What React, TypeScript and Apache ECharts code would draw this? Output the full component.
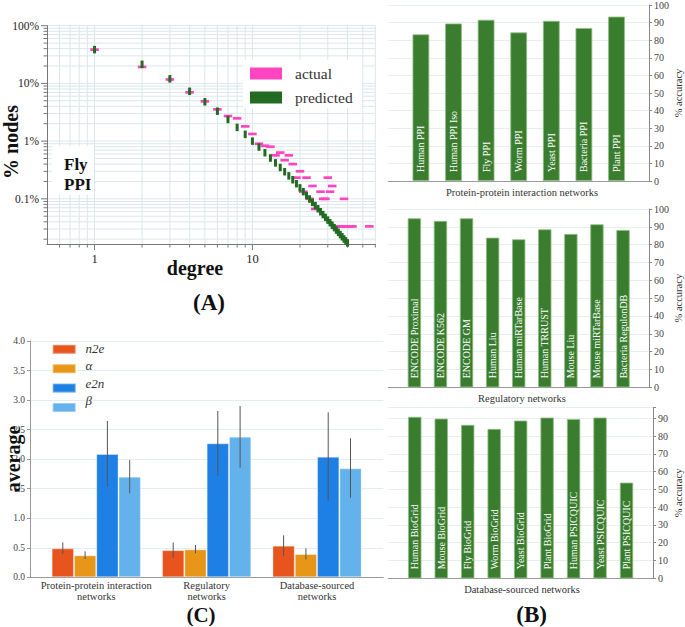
import React, { useEffect, useRef } from "react";
import * as echarts from "echarts";

const FONT = "'Liberation Serif', 'DejaVu Serif', serif";

// ---------- Panel A: degree distribution (Fly PPI) ----------
const actualDegree = [1, 2, 3, 4, 5, 6, 7, 8, 9, 10, 11, 12, 13, 14, 15, 16, 17, 18, 19, 20, 21, 22, 23, 24, 25, 27, 28, 29, 30, 31, 32, 35, 36, 37, 38, 39, 40, 42, 43, 55];
const actualPct = [38.5, 19.3, 11.7, 7.0, 4.9, 3.55, 2.72, 2.48, 1.8, 1.33, 0.9, 0.83, 0.8, 0.567, 0.633, 0.467, 0.567, 0.4, 0.233, 0.3, 0.133, 0.233, 0.1, 0.167, 0.0667, 0.133, 0.1, 0.1, 0.233, 0.133, 0.167, 0.0333, 0.0333, 0.0333, 0.1, 0.0333, 0.0333, 0.0333, 0.0333, 0.0333];
const predictedDegree = [1, 2, 3, 4, 5, 6, 7, 8, 9, 10, 11, 12, 13, 14, 15, 16, 17, 18, 19, 20, 21, 22, 23, 24, 25, 26, 27, 28, 29, 30, 31, 32, 33, 34, 35, 36, 37, 38, 39, 40, 41];
const predictedPct = [38.5, 21.4, 12.0, 7.3, 4.8, 3.3, 2.37, 1.73, 1.31, 1.0, 0.79, 0.63, 0.51, 0.42, 0.35, 0.295, 0.25, 0.214, 0.183, 0.155, 0.133, 0.114, 0.0994, 0.0868, 0.0763, 0.0674, 0.0598, 0.0533, 0.0477, 0.0428, 0.0386, 0.0349, 0.0317, 0.0288, 0.0263, 0.024, 0.022, 0.0202, 0.0187, 0.0172, 0.0159];
const degreeMajorTicks = [1, 10];
const degreeMinorTicks = [0.6, 0.7, 0.8, 0.9, 2, 3, 4, 5, 6, 7, 8, 9, 20, 30, 40, 50, 60];
const nodesMajorTicks = [0.1, 1, 10, 100];
const nodesMinorTicks = [0.02, 0.03, 0.04, 0.05, 0.06, 0.07, 0.08, 0.09, 0.2, 0.3, 0.4, 0.5, 0.6, 0.7, 0.8, 0.9, 2, 3, 4, 5, 6, 7, 8, 9, 20, 30, 40, 50, 60, 70, 80, 90];
const A_XMIN = 0.5;
const A_XMAX = 60;
const A_YMIN = 0.0165;
const A_YMAX = 100;
const seriesNamesA = ["actual", "predicted"];

// ---------- Panel B: accuracy ----------
const ppiNames = ["Human PPI", "Human PPI Iso", "Fly PPI", "Worm PPI", "Yeast PPI", "Bacteria PPI", "Plant PPI"];
const ppiAccuracy = [83.3, 89.5, 91.6, 84.4, 91.0, 86.9, 93.4];
const regNames = ["ENCODE Proximal", "ENCODE K562", "ENCODE GM", "Human Liu", "Human miRTarBase", "Human TRRUST", "Mouse Liu", "Mouse miRTarBase", "Bacteria RegulonDB"];
const regAccuracy = [94.8, 93.3, 94.8, 83.9, 83.0, 88.6, 86.0, 91.4, 88.2];
const dbNames = ["Human BioGrid", "Mouse BioGrid", "Fly BioGrid", "Worm BioGrid", "Yeast BioGrid", "Plant BioGrid", "Human PSICQUIC", "Yeast PSICQUIC", "Plant PSICQUIC"];
const dbAccuracy = [90.8, 89.8, 86.3, 84.0, 88.7, 90.4, 89.5, 90.4, 53.8];
const accuracyTicks = [0, 10, 20, 30, 40, 50, 60, 70, 80, 90, 100];

// ---------- Panel C: averages ----------
const groupNames = ["Protein-protein interaction\nnetworks", "Regulatory\nnetworks", "Database-sourced\nnetworks"];
const measureNames = ["n2e", "α", "e2n", "β"];
const n2eMean = [0.49, 0.46, 0.535];
const n2eLow = [0.39, 0.33, 0.36];
const n2eHigh = [0.59, 0.59, 0.71];
const alphaMean = [0.372, 0.474, 0.394];
const alphaLow = [0.31, 0.406, 0.305];
const alphaHigh = [0.44, 0.547, 0.49];
const e2nMean = [2.087, 2.268, 2.042];
const e2nLow = [1.534, 1.72, 1.297];
const e2nHigh = [2.646, 2.815, 2.793];
const betaMean = [1.703, 2.38, 1.845];
const betaLow = [1.422, 1.855, 1.347];
const betaHigh = [1.985, 2.9, 2.353];

const PINK = "#ff44c2";
const DKGREEN = "#236b23";
const BARGREEN = "#3a7d2f";
const GRIDA = "#dbe7e9";
const measureColors = ["#e8541e", "#e8961a", "#1e80e4", "#64b2ec"];
const C_BAR_W = 22.3;

const isPow10 = (v: number) => {
  const l = Math.log10(v);
  return Math.abs(l - Math.round(l)) < 1e-6;
};

function buildOption() {
  const gA = { left: 47, top: 25.7, width: 328.3, height: 218.3 };
  const gB1 = { left: 388.3, top: 3.3, width: 267.4, height: 177.7 };
  const gB2 = { left: 388.3, top: 209, width: 267.4, height: 178.3 };
  const gB3 = { left: 388.3, top: 407.6, width: 267.4, height: 170.7 };
  const gC = { left: 30, top: 341, width: 353.3, height: 236.3 };

  const bXAxis = (gridIndex: number, n: number) => ({
    type: "value",
    gridIndex,
    min: 0,
    max: n + 1,
    axisLine: { show: true, onZero: false, lineStyle: { color: "#999", width: 1 } },
    axisTick: { show: false },
    axisLabel: { show: false },
    splitLine: { show: false },
  });
  const bYAxis = (gridIndex: number, max: number) => ({
    type: "value",
    gridIndex,
    position: "right",
    min: 0,
    max,
    interval: 10,
    axisLine: { show: true, onZero: false, lineStyle: { color: "#888" } },
    axisTick: { show: true, length: 3, lineStyle: { color: "#888" } },
    axisLabel: {
      fontSize: 10,
      color: "#444",
      margin: 5,
      fontFamily: FONT,
      formatter: (v: number) => (accuracyTicks.includes(v) ? String(v) : ""),
    },
    splitLine: { show: true, lineStyle: { color: "#e8eeef", width: 1 } },
    name: "% accuracy",
    nameLocation: "middle",
    nameGap: 20,
    nameRotate: 90,
    nameTextStyle: { fontSize: 10.5, color: "#333", fontFamily: FONT },
  });
  const bSeries = (idx: number, names: string[], values: number[], width: number) => ({
    type: "bar",
    xAxisIndex: idx,
    yAxisIndex: idx,
    barWidth: width,
    data: values.map((v, i) => [i + 1, v]),
    itemStyle: { color: BARGREEN, borderColor: "#8fbf84", borderWidth: 0.8 },
    label: {
      show: true,
      position: "insideBottom",
      distance: 9,
      rotate: 90,
      align: "left",
      verticalAlign: "middle",
      color: "#fff",
      fontSize: 10,
      fontFamily: FONT,
      formatter: (p: any) => names[p.dataIndex],
    },
    silent: true,
  });

  const cMeans = [n2eMean, alphaMean, e2nMean, betaMean];
  const cLows = [n2eLow, alphaLow, e2nLow, betaLow];
  const cHighs = [n2eHigh, alphaHigh, e2nHigh, betaHigh];
  const errData: number[][] = [];
  cMeans.forEach((_, m) => {
    groupNames.forEach((_, g) => errData.push([g + 1, cLows[m][g], cHighs[m][g], m]));
  });

  const text = (t: string, x: number, y: number, size: number, weight: string, extra: any = {}, rotation = 0) => ({
    type: "text",
    x,
    y,
    rotation,
    silent: true,
    z: 100,
    style: {
      text: t,
      fontSize: size,
      fontWeight: weight,
      fontFamily: FONT,
      fill: "#111",
      align: "center",
      verticalAlign: "middle",
      ...extra,
    },
  });

  // legend label layout (swatches drawn by the legend component, labels in serif)
  const legendAY0 = 73.5;
  const legendAStep = 24;
  const legendCY0 = 348.3;
  const legendCStep = 17.4;

  return {
    animation: false,
    backgroundColor: "#fff",
    textStyle: { fontFamily: FONT },
    grid: [gA, gB1, gB2, gB3, gC],
    xAxis: [
      {
        type: "log",
        logBase: 10,
        gridIndex: 0,
        min: A_XMIN,
        max: A_XMAX,
        axisLine: { show: true, onZero: false, lineStyle: { color: "#777" } },
        axisTick: { show: false },
        splitLine: { show: false },
        axisLabel: {
          fontSize: 12.5,
          color: "#222",
          margin: 8,
          fontFamily: FONT,
          formatter: (v: number) => (isPow10(v) && degreeMajorTicks.some((t) => Math.abs(t - v) < 1e-6) ? String(Math.round(v)) : ""),
        },
      },
      bXAxis(1, ppiNames.length),
      bXAxis(2, regNames.length),
      bXAxis(3, dbNames.length),
      {
        type: "value",
        gridIndex: 4,
        min: 0.4,
        max: 3.6,
        axisLine: { show: true, onZero: false, lineStyle: { color: "#999" } },
        axisTick: { show: false },
        splitLine: { show: false },
        axisLabel: {
          customValues: [1, 2, 3],
          formatter: (v: number) => groupNames[Math.round(v) - 1] || "",
          fontSize: 10.5,
          lineHeight: 11,
          color: "#333",
          margin: 3,
          fontFamily: FONT,
        },
      },
    ],
    yAxis: [
      {
        type: "log",
        logBase: 10,
        gridIndex: 0,
        min: A_YMIN,
        max: A_YMAX,
        axisLine: { show: true, onZero: false, lineStyle: { color: "#777" } },
        axisTick: { show: false },
        splitLine: { show: false },
        axisLabel: {
          fontSize: 11.5,
          color: "#222",
          margin: 8,
          fontFamily: FONT,
          formatter: (v: number) =>
            isPow10(v) && nodesMajorTicks.some((t) => Math.abs(t - v) / t < 1e-6) ? `${Number(v.toPrecision(1))}%` : "",
        },
      },
      bYAxis(1, 100),
      bYAxis(2, 100),
      bYAxis(3, 96),
      {
        type: "value",
        gridIndex: 4,
        min: 0,
        max: 4,
        interval: 0.5,
        axisLine: { show: true, onZero: false, lineStyle: { color: "#999" } },
        axisTick: { show: true, length: 3, lineStyle: { color: "#999" } },
        axisLabel: {
          fontSize: 9.5,
          color: "#444",
          margin: 5,
          fontFamily: FONT,
          formatter: (v: number) => v.toFixed(1),
        },
        splitLine: { show: true, lineStyle: { color: "#e4eef2" } },
      },
    ],
    legend: [
      {
        data: seriesNamesA.map((n) => ({ name: n, icon: "rect" })),
        formatter: () => "",
        orient: "vertical",
        left: 250,
        top: 67.5,
        padding: 0,
        itemWidth: 32,
        itemHeight: 12,
        itemGap: 12,
        selectedMode: false,
        textStyle: { fontSize: 12 },
      },
      {
        data: measureNames.map((n) => ({ name: n, icon: "rect" })),
        formatter: () => "",
        orient: "vertical",
        left: 51.7,
        top: 343.8,
        padding: 0,
        itemWidth: 23,
        itemHeight: 9,
        itemGap: 8.4,
        selectedMode: false,
        textStyle: { fontSize: 9 },
      },
    ],
    series: [
      {
        type: "custom",
        name: "gridX",
        xAxisIndex: 0,
        yAxisIndex: 0,
        silent: true,
        z: 0,
        data: [...degreeMinorTicks, ...degreeMajorTicks].map((v) => [v, A_YMIN]),
        renderItem: (_p: any, api: any) => {
          const v = api.value(0);
          const major = degreeMajorTicks.includes(v);
          const b = api.coord([v, A_YMIN]);
          const t = api.coord([v, A_YMAX]);
          return {
            type: "group",
            children: [
              { type: "line", shape: { x1: b[0], y1: b[1], x2: t[0], y2: t[1] }, style: { stroke: GRIDA, lineWidth: 1 } },
              { type: "line", shape: { x1: b[0], y1: b[1], x2: b[0], y2: b[1] + (major ? 6 : 3.5) }, style: { stroke: "#777", lineWidth: 1 } },
            ],
          };
        },
      },
      {
        type: "custom",
        name: "gridY",
        xAxisIndex: 0,
        yAxisIndex: 0,
        silent: true,
        z: 0,
        data: [...nodesMinorTicks, ...nodesMajorTicks].map((v) => [A_XMIN, v]),
        renderItem: (_p: any, api: any) => {
          const v = api.value(1);
          const major = nodesMajorTicks.some((t) => Math.abs(t - v) / t < 1e-6);
          const l = api.coord([A_XMIN, v]);
          const r = api.coord([A_XMAX, v]);
          return {
            type: "group",
            children: [
              { type: "line", shape: { x1: l[0], y1: l[1], x2: r[0], y2: r[1] }, style: { stroke: GRIDA, lineWidth: 1 } },
              { type: "line", shape: { x1: l[0] - (major ? 6 : 3.5), y1: l[1], x2: l[0], y2: l[1] }, style: { stroke: "#777", lineWidth: 1 } },
            ],
          };
        },
      },
      {
        type: "scatter",
        name: seriesNamesA[0],
        xAxisIndex: 0,
        yAxisIndex: 0,
        symbol: "rect",
        symbolSize: [8.5, 2.7],
        itemStyle: { color: PINK, opacity: 1 },
        data: actualDegree.map((d, i) => [d, actualPct[i]]),
        silent: true,
        z: 3,
      },
      {
        type: "scatter",
        name: seriesNamesA[1],
        xAxisIndex: 0,
        yAxisIndex: 0,
        symbol: "rect",
        symbolSize: [3, 7.5],
        itemStyle: { color: DKGREEN, opacity: 1 },
        data: predictedDegree.map((d, i) => [d, predictedPct[i]]),
        silent: true,
        z: 4,
      },
      bSeries(1, ppiNames, ppiAccuracy, 16.7),
      bSeries(2, regNames, regAccuracy, 13.3),
      bSeries(3, dbNames, dbAccuracy, 13.3),
      ...measureNames.map((name, m) => ({
        type: "bar",
        name,
        xAxisIndex: 4,
        yAxisIndex: 4,
        barWidth: C_BAR_W,
        barGap: "0%",
        data: cMeans[m].map((v, g) => [g + 1, v]),
        itemStyle: { color: measureColors[m], borderColor: "rgba(255,255,255,0.35)", borderWidth: 1 },
        silent: true,
      })),
      {
        type: "custom",
        name: "errors",
        xAxisIndex: 4,
        yAxisIndex: 4,
        silent: true,
        z: 5,
        data: errData,
        renderItem: (_p: any, api: any) => {
          const x = api.value(0);
          const lo = api.coord([x, api.value(1)]);
          const hi = api.coord([x, api.value(2)]);
          const off = (api.value(3) - 1.5) * C_BAR_W;
          return {
            type: "line",
            shape: { x1: lo[0] + off, y1: lo[1], x2: hi[0] + off, y2: hi[1] },
            style: { stroke: "#555", lineWidth: 1 },
          };
        },
      },
    ],
    graphic: [
      // white box of legend (A) and behind the "Fly PPI" label
      { type: "rect", silent: true, z: 1, shape: { x: 243, y: 60, width: 119, height: 48 }, style: { fill: "#fff" } },
      { type: "rect", silent: true, z: 1, shape: { x: 52, y: 146, width: 42, height: 49 }, style: { fill: "#fff" } },
      ...seriesNamesA.map((n, i) => text(n, 295, legendAY0 + i * legendAStep, 15.5, "normal", { align: "left", fill: "#333" })),
      ...measureNames.map((n, i) =>
        text(n, 85.5, legendCY0 + i * legendCStep, 13, "normal", { align: "left", fill: "#333", fontStyle: "italic" })
      ),
      text("% nodes", 10.5, 142, 20, "bold", {}, Math.PI / 2),
      text("degree", 195, 268, 20, "bold"),
      text("Fly", 64, 164, 17, "bold", { align: "left" }),
      text("PPI", 64, 184, 17, "bold", { align: "left" }),
      text("(A)", 209, 302, 23, "bold"),
      text("(B)", 531.7, 614, 23, "bold"),
      text("(C)", 201, 614.5, 21, "bold"),
      text("average", 13, 459, 20, "bold", {}, Math.PI / 2),
      text("Protein-protein interaction networks", 522, 192, 10.5, "normal", { fill: "#333" }),
      text("Regulatory networks", 522, 398.3, 10.5, "normal", { fill: "#333" }),
      text("Database-sourced networks", 522, 589, 10.5, "normal", { fill: "#333" }),
    ],
  };
}

export default function App() {
  const ref = useRef<HTMLDivElement>(null);
  useEffect(() => {
    if (!ref.current) return;
    const chart = echarts.init(ref.current, null, { renderer: "svg" });
    chart.setOption(buildOption() as any);
    return () => chart.dispose();
  }, []);
  return (
    <div
      ref={ref}
      style={{ position: "absolute", left: 0, top: 0, width: 685, height: 627, background: "#fff" }}
    />
  );
}
